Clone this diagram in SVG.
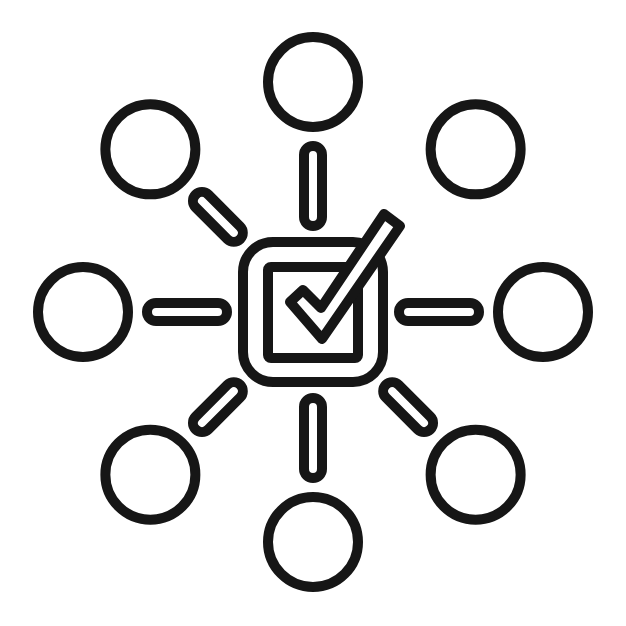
<svg xmlns="http://www.w3.org/2000/svg" width="626" height="626" viewBox="0 0 626 626">
<style>
.s{fill:none;stroke:#161616;stroke-width:10;stroke-linejoin:round;stroke-linecap:round}
.w{fill:#fff;stroke:#161616;stroke-width:10;stroke-linejoin:round}
</style>
<defs>
<rect id="capS" x="86" y="-9" width="80" height="18" rx="9" class="s"/>
<rect id="capD" x="103" y="-9" width="63" height="18" rx="9" class="s"/>
<circle id="node" cx="230" cy="0" r="45" class="s"/>
</defs>
<rect width="626" height="626" fill="#fff"/>
<g id="connectors" transform="translate(313,312)">
<use href="#capS" transform="rotate(0)"/>
<use href="#capD" transform="rotate(45)"/>
<use href="#capS" transform="rotate(90)"/>
<use href="#capD" transform="rotate(135)"/>
<use href="#capS" transform="rotate(180)"/>
<use href="#capD" transform="rotate(225)"/>
<use href="#capS" transform="rotate(270)"/>
</g>
<g id="node-right" transform="translate(313,312) rotate(0)"><use href="#node"/></g>
<g id="node-bottom-right" transform="translate(313,312) rotate(45)"><use href="#node"/></g>
<g id="node-bottom" transform="translate(313,312) rotate(90)"><use href="#node"/></g>
<g id="node-bottom-left" transform="translate(313,312) rotate(135)"><use href="#node"/></g>
<g id="node-left" transform="translate(313,312) rotate(180)"><use href="#node"/></g>
<g id="node-top-left" transform="translate(313,312) rotate(225)"><use href="#node"/></g>
<g id="node-top" transform="translate(313,312) rotate(270)"><use href="#node"/></g>
<g id="node-top-right" transform="translate(313,312) rotate(315)"><use href="#node"/></g>
<g id="center-checkbox">
<rect x="243" y="242" width="140" height="140" rx="30" class="s"/>
<rect x="268" y="267" width="90" height="91" rx="3" class="s"/>
<polygon points="384,214 400,226 322,339 290,302 303,290 321,308" class="w"/>
</g>
</svg>
